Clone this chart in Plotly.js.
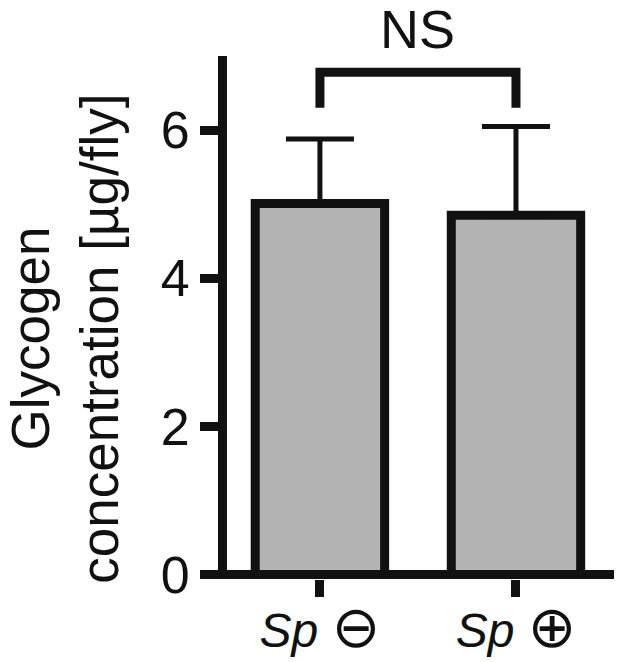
<!DOCTYPE html>
<html>
<head>
<meta charset="utf-8">
<script src="https://cdn.plot.ly/plotly-3.0.1.min.js"></script>
<style>
  html, body { margin: 0; padding: 0; background: #fff; }
  #chart { width: 617px; height: 662px; }
</style>
</head>
<body>
<div id="chart"></div>
<script>
// groups and measured values (ug/fly)
const groups = [0, 1];
const groupNames = ["Sp", "Sp"];
const groupSigns = ["\u2296", "\u2295"];
const means = [5.01, 4.85];
const errUp = [0.87, 1.20];
const yTicks = [0, 2, 4, 6];
const yRange = [-0.06, 7];

// significance bracket
const bracketTop = 6.78;
const bracketFoot = 6.30;
const sigLabel = "NS";
const sigLabelY = 7.37;

const font = "'Liberation Sans', Arial, Helvetica, sans-serif";

var tickText = groupNames.map(function (n, i) {
  return "<i>" + n + "</i> <span style='font-size:58px;font-family:DejaVu Sans'>" +
    groupSigns[i] + "</span>";
});

var bars = {
  type: "bar",
  x: groups,
  y: means,
  width: 0.66,
  marker: { color: "#b3b3b3", line: { color: "#111", width: 9 } },
  error_y: {
    type: "data", symmetric: false, array: errUp, arrayminus: [0, 0],
    color: "#111", thickness: 5, width: 34
  },
  hoverinfo: "none",
  showlegend: false
};

var layout = {
  width: 617,
  height: 662,
  margin: { l: 227, r: 3, t: 56, b: 82.5 },
  paper_bgcolor: "#fff",
  plot_bgcolor: "#fff",
  font: { family: font, color: "#111" },
  xaxis: {
    range: [-0.474, 1.5],
    tickvals: groups,
    ticktext: tickText,
    tickfont: { size: 48, family: font },
    ticklabelstandoff: -8,
    ticks: "outside", ticklen: 17, tickwidth: 9, tickcolor: "#111",
    showline: false, showgrid: false, zeroline: false,
    fixedrange: true
  },
  yaxis: {
    range: yRange,
    tickvals: yTicks,
    tickfont: { size: 52, family: font },
    ticks: "outside", ticklen: 18, tickwidth: 9, tickcolor: "#111",
    showline: true, linewidth: 9, linecolor: "#111",
    showgrid: false,
    zeroline: true, zerolinewidth: 9, zerolinecolor: "#111",
    fixedrange: true
  },
  shapes: [{
    type: "path", xref: "x", yref: "y",
    path: "M" + groups[0] + "," + bracketFoot + " L" + groups[0] + "," + bracketTop +
          " L" + groups[1] + "," + bracketTop + " L" + groups[1] + "," + bracketFoot,
    line: { color: "#111", width: 9 }
  }],
  annotations: [{
    xref: "x", yref: "paper", x: (groups[0] + groups[1]) / 2,
    y: (sigLabelY - yRange[0]) / (yRange[1] - yRange[0]),
    text: sigLabel, showarrow: false, font: { size: 54, family: font },
    xanchor: "center", yanchor: "middle"
  }, {
    xref: "paper", yref: "paper", x: -0.418, y: 0.46,
    text: "Glycogen<br>concentration [\u00b5g/fly]",
    textangle: -90, showarrow: false,
    font: { size: 53, family: font },
    xanchor: "center", yanchor: "middle"
  }]
};

Plotly.newPlot("chart", [bars], layout, { displayModeBar: false, staticPlot: true });
</script>
</body>
</html>
